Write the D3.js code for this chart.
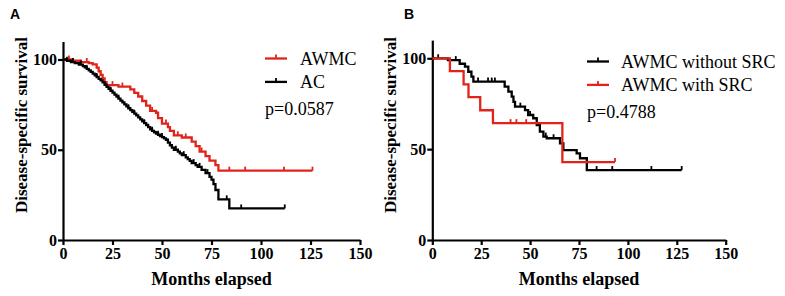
<!DOCTYPE html>
<html>
<head>
<meta charset="utf-8">
<script src="https://cdn.jsdelivr.net/npm/d3@7"></script>
<style>
  body { margin: 0; background: #fff; }
  svg { display: block; }
  .tick text { font-family: "Liberation Serif", serif; font-weight: bold; font-size: 16px; fill: #000; }
  .domain, .tick line { stroke: #000; stroke-width: 2.2px; }
</style>
</head>
<body>
<svg id="chart" width="785" height="296"></svg>
<script>
// ---- data ----
var xTicks = [0, 25, 50, 75, 100, 125, 150];
var yTicks = [0, 50, 100];

// panel A : AWMC (red) vs AC (black)
var awmcTime = [0, 5, 9, 13, 15, 17, 18, 19, 20, 21, 22, 28, 34, 36, 38, 40, 42, 44, 47, 48, 50, 53, 54, 56, 60, 65, 67, 69, 72, 74, 77, 78.5];
var awmcSurv = [100, 99.3, 98.6, 98, 97.3, 95.5, 93.5, 91.5, 89.5, 87.5, 85.8, 85, 83.5, 81.5, 79.5, 77, 74.5, 71.5, 70.5, 67.5, 64.5, 62.5, 60.5, 58, 56.8, 54.5, 52, 49, 46.5, 44, 41.5, 38.4];
var awmcEnd = 126;
var awmcCensor = [3, 12, 25, 30, 45, 52, 58, 62, 70, 84, 92, 111.6, 126];

var acTime = [0, 2, 4, 6, 8, 10, 11, 12, 13, 14, 15, 16, 17, 18, 19, 20, 21, 22, 23, 24, 25, 26, 27, 28, 29, 30, 31, 32, 33, 34, 35, 36, 37, 38, 39, 40, 41, 42, 43, 44, 45, 46, 47, 48, 49, 50, 51, 52, 53, 54, 55, 56, 58, 59, 60, 62, 63, 64, 65, 67, 68, 70, 72, 74, 75, 76, 77, 78.5, 84];
var acSurv = [100, 99.3, 98.6, 98, 97.2, 96.3, 95.6, 94.8, 94, 93.1, 92.2, 91.2, 90.3, 89.3, 88.4, 87.3, 86, 84.8, 83.8, 82.7, 81.6, 80.5, 79.4, 78.3, 77.2, 76.2, 75.1, 74, 73, 72, 71, 70, 69, 67.9, 66.8, 65.8, 64.7, 63.7, 62.5, 61.3, 60.5, 59.7, 59, 58.3, 57.6, 57, 56.3, 55.5, 54, 52.5, 51.2, 50, 49, 48, 47, 45.8, 44.8, 43.8, 42.6, 41.5, 40.5, 38.8, 37, 35, 33.5, 31, 27.7, 22.5, 17.5];
var acEnd = 112;
var acCensor = [2, 5, 9, 12, 17, 24, 28, 33, 36, 41, 45, 48, 50, 53, 57, 61, 66, 69, 73, 82.7, 90, 112];

// panel B : AWMC without SRC (black) vs with SRC (red)
var noSrcTime = [0, 8, 14, 16.7, 18.4, 20, 21, 37, 38.9, 40.6, 41.5, 42.3, 47.4, 49, 51.6, 53.4, 55, 56.8, 58.5, 65.3, 67, 73.8, 75.5, 79];
var noSrcSurv = [100, 99, 97, 95.4, 92.6, 89.9, 87.2, 84.4, 81.7, 78.9, 76, 73.4, 71.5, 68.8, 67, 63.3, 59.6, 56.9, 56, 53.2, 49.5, 47.7, 45, 38.5];
var noSrcEnd = 127.5;
var noSrcCensor = [3, 12, 23.4, 28.5, 30.4, 32, 45, 50, 58, 62, 75.5, 84, 92, 112, 127.5];

var srcTime = [0, 9, 16, 18.5, 24.5, 31, 66.5];
var srcSurv = [100, 92.9, 85.7, 78.6, 71.4, 64.3, 42.9];
var srcEnd = 93.4;
var srcCensor = [40, 43, 48, 93.4];

var red = "#e2231a";

var svg = d3.select("#chart");

function stepPoints(times, surv, end) {
    var pts = times.map(function(t, i) { return [t, surv[i]]; });
    pts.push([end, surv[surv.length - 1]]);
    return pts;
}

function survAt(times, surv, t) {
    var i = d3.bisectRight(times, t) - 1;
    return surv[Math.max(0, i)];
}

function drawPanel(opt) {
    var x = d3.scaleLinear().domain([0, 150]).range([opt.x0, opt.x1]);
    var y = d3.scaleLinear().domain([0, 110]).range([240, 240 - 110 * opt.pxPerUnit]);

    var g = svg.append("g");

    // axes
    g.append("g")
        .attr("transform", "translate(0,240)")
        .call(d3.axisBottom(x).tickValues(xTicks).tickSize(5).tickSizeOuter(0).tickPadding(3));
    g.append("g")
        .attr("transform", "translate(" + opt.x0 + ",0)")
        .call(d3.axisLeft(y).tickValues(yTicks).tickSize(5).tickSizeOuter(0).tickPadding(1));

    var line = d3.line()
        .curve(d3.curveStepAfter)
        .x(function(d) { return x(d[0]); })
        .y(function(d) { return y(d[1]); });

    opt.series.forEach(function(s) {
        g.append("path")
            .attr("d", line(stepPoints(s.time, s.surv, s.end)))
            .attr("fill", "none")
            .attr("stroke", s.color)
            .attr("stroke-width", 2.3);

        g.selectAll(null)
            .data(s.censor)
            .enter().append("line")
            .attr("x1", function(t) { return x(t); })
            .attr("x2", function(t) { return x(t); })
            .attr("y1", function(t) { return y(survAt(s.time, s.surv, t)); })
            .attr("y2", function(t) { return y(survAt(s.time, s.surv, t)) - 4; })
            .attr("stroke", s.color)
            .attr("stroke-width", 1.8);
    });

    // axis titles
    g.append("text")
        .attr("transform", "translate(" + (opt.x0 - 36) + ",125) rotate(-90)")
        .attr("text-anchor", "middle")
        .style("font-family", "Liberation Serif, serif")
        .style("font-weight", "bold")
        .style("font-size", "17px")
        .text("Disease-specific survival");

    g.append("text")
        .attr("x", (opt.x0 + opt.x1) / 2)
        .attr("y", 285)
        .attr("text-anchor", "middle")
        .style("font-family", "Liberation Serif, serif")
        .style("font-weight", "bold")
        .style("font-size", "18px")
        .text("Months elapsed");

    // panel letter
    g.append("text")
        .attr("x", opt.letterX)
        .attr("y", 19)
        .style("font-family", "Liberation Sans, Arial, sans-serif")
        .style("font-weight", "bold")
        .style("font-size", "14px")
        .text(opt.letter);

    // legend
    var leg = g.append("g").attr("transform", "translate(" + opt.legX + "," + opt.legY + ")");
    opt.series.forEach(function(s, i) {
        var ly = i * 23.4;
        leg.append("line")
            .attr("x1", 0).attr("x2", 22).attr("y1", ly).attr("y2", ly)
            .attr("stroke", s.color).attr("stroke-width", 2.3);
        leg.append("line")
            .attr("x1", 11).attr("x2", 11).attr("y1", ly).attr("y2", ly - 4)
            .attr("stroke", s.color).attr("stroke-width", 1.8);
        leg.append("text")
            .attr("x", opt.legTextDx)
            .attr("y", ly + 6.5)
            .style("font-family", "Liberation Serif, serif")
            .style("font-size", "18px")
            .text(s.name);
    });
    leg.append("text")
        .attr("x", 0)
        .attr("y", 56.5)
        .style("font-family", "Liberation Serif, serif")
        .style("font-size", "18px")
        .text(opt.pText);
}

drawPanel({
    letter: "A", letterX: 10, x0: 63, x1: 360, pxPerUnit: 1.805,
    legX: 265, legY: 58.5, legTextDx: 35, pText: "p=0.0587",
    series: [
        { name: "AWMC", color: red, time: awmcTime, surv: awmcSurv, end: awmcEnd, censor: awmcCensor },
        { name: "AC", color: "#000", time: acTime, surv: acSurv, end: acEnd, censor: acCensor }
    ]
});

drawPanel({
    letter: "B", letterX: 404, x0: 432.3, x1: 725.7, pxPerUnit: 1.817,
    legX: 587, legY: 61.5, legTextDx: 34, pText: "p=0.4788",
    series: [
        { name: "AWMC without SRC", color: "#000", time: noSrcTime, surv: noSrcSurv, end: noSrcEnd, censor: noSrcCensor },
        { name: "AWMC with SRC", color: red, time: srcTime, surv: srcSurv, end: srcEnd, censor: srcCensor }
    ]
});
</script>
</body>
</html>
